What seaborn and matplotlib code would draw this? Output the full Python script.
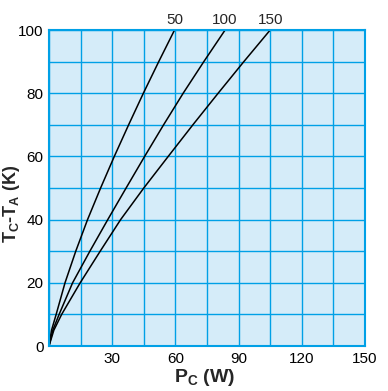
import numpy as np
import pandas as pd
import seaborn as sns
import matplotlib.pyplot as plt

# temperature rise (K) vs power dissipation (W)
temp_rise = [0, 5, 10, 20, 30, 40, 50, 60, 70, 80, 90, 100]
power_50 = [0, 1.2, 3.4, 7.6, 12.7, 18.3, 24.5, 31.0, 37.8, 44.8, 52.1, 59.6]
power_100 = [0, 1.8, 4.8, 11.2, 19.4, 27.9, 36.6, 45.4, 54.4, 63.7, 73.5, 83.6]
power_150 = [0, 2.3, 6.0, 14.8, 24.3, 34.0, 45.0, 56.6, 68.3, 80.3, 92.5, 105.0]
curve_names = ["50", "100", "150"]

x_ticks = list(range(0, 151, 15))
x_labels = ["", "", "30", "", "60", "", "90", "", "120", "", "150"]
y_ticks = list(range(0, 101, 10))
y_labels = ["0", "", "20", "", "40", "", "60", "", "80", "", "100"]

grid_blue = "#00a0e6"
face_blue = "#d5ecf9"

sns.set_theme(style="white")
plt.rcParams['font.family'] = ['Liberation Sans', 'DejaVu Sans']
plt.rcParams['mathtext.default'] = 'regular'

rows = []
for name, pw in zip(curve_names, [power_50, power_100, power_150]):
    for t, p in zip(temp_rise, pw):
        rows.append({"curve": name, "P": p, "T": t})
df = pd.DataFrame(rows)

fig = plt.figure(figsize=(3.88, 3.91), dpi=100)
ax = fig.add_axes([49 / 388, 1 - 346 / 391, 316 / 388, 316 / 391])
ax.set_facecolor(face_blue)

sns.lineplot(data=df, x="P", y="T", hue="curve", palette=["black"] * 3,
             estimator=None, sort=False, legend=False, linewidth=1.1, ax=ax)

ax.set_xlim(0, 150)
ax.set_ylim(0, 100)
ax.set_xticks(x_ticks)
ax.set_xticklabels(x_labels)
ax.set_yticks(y_ticks)
ax.set_yticklabels(y_labels)
ax.grid(True, color=grid_blue, linewidth=1.0)
ax.set_axisbelow(True)
ax.tick_params(length=0, labelsize=11, pad=4, colors="black")
for sp in ax.spines.values():
    sp.set_color(grid_blue)
    sp.set_linewidth(1.5)
    sp.set_visible(True)

# curve labels at the top end of each line
for name, pw in zip(curve_names, [power_50, power_100, power_150]):
    ax.annotate(name, (pw[-1], temp_rise[-1]), xytext=(0, 2), textcoords="offset points",
                ha="center", va="bottom", fontsize=11, annotation_clip=False)

ax.set_xlabel("P$_C$ (W)", fontsize=14, fontweight="bold")
ax.set_ylabel("T$_C$-T$_A$ (K)", fontsize=13, fontweight="bold")
ax.xaxis.set_label_coords(0.494, -0.10)
ax.yaxis.set_label_coords(-0.118, 0.45)
ax.xaxis.label.set_va("center")
ax.yaxis.label.set_va("center")

fig.savefig("out.png", dpi=100)
